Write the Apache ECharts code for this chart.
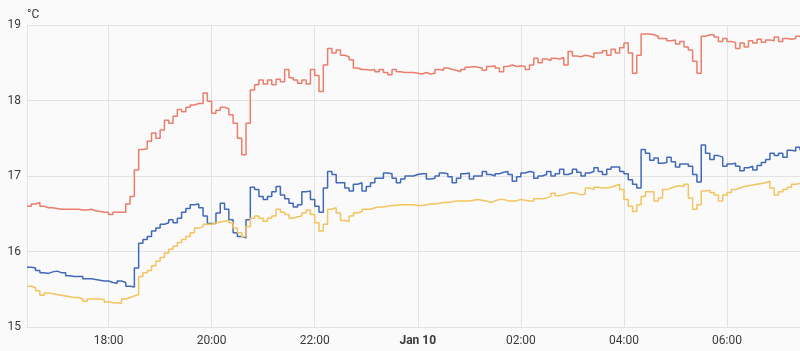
<!DOCTYPE html>
<html lang="en">
<head>
<meta charset="UTF-8" />
<title>Temperatures</title>
<script src="https://cdn.jsdelivr.net/npm/echarts@6/dist/echarts.min.js"></script>
<style>
  html, body { margin: 0; padding: 0; background: #fafafa; }
  #main { width: 800px; height: 351px; }
</style>
</head>
<body>
<div id="main"></div>
<script>
// readings every 5 minutes, 16:25 -> 07:25
var startMinute = 16 * 60 + 25;
var stepMinutes = 5;

var red = [16.60,16.63,16.65,16.60,16.58,16.58,16.57,16.56,16.56,16.56,
  16.56,16.56,16.55,16.55,16.56,16.54,16.53,16.52,16.52,16.49,
  16.52,16.52,16.52,16.63,16.73,17.08,17.35,17.36,17.46,17.57,
  17.50,17.61,17.74,17.70,17.79,17.88,17.85,17.91,17.94,17.96,
  17.96,18.10,17.99,17.83,17.87,17.91,17.89,17.81,17.70,17.50,
  17.28,17.70,18.14,18.21,18.27,18.22,18.27,18.21,18.28,18.25,
  18.41,18.30,18.27,18.23,18.27,18.22,18.41,18.33,18.12,18.47,
  18.69,18.63,18.67,18.60,18.58,18.54,18.43,18.41,18.41,18.40,
  18.41,18.38,18.41,18.37,18.34,18.41,18.38,18.37,18.37,18.37,
  18.36,18.35,18.37,18.35,18.36,18.41,18.40,18.43,18.41,18.40,
  18.38,18.41,18.44,18.45,18.44,18.43,18.40,18.45,18.46,18.43,
  18.38,18.45,18.47,18.45,18.46,18.45,18.41,18.47,18.56,18.50,
  18.55,18.53,18.56,18.55,18.57,18.47,18.65,18.59,18.58,18.60,
  18.59,18.57,18.63,18.63,18.66,18.60,18.68,18.63,18.70,18.76,
  18.63,18.36,18.60,18.88,18.88,18.87,18.85,18.82,18.82,18.79,
  18.80,18.75,18.78,18.71,18.67,18.52,18.36,18.85,18.87,18.87,
  18.84,18.78,18.82,18.78,18.77,18.69,18.76,18.71,18.79,18.76,
  18.81,18.77,18.80,18.79,18.84,18.78,18.82,18.81,18.82,18.85,
  18.85];

var blue = [15.79,15.78,15.75,15.72,15.71,15.73,15.74,15.72,15.72,15.68,
  15.67,15.67,15.67,15.64,15.64,15.63,15.62,15.61,15.61,15.59,
  15.58,15.61,15.59,15.54,15.53,15.78,16.11,16.16,16.20,16.27,
  16.31,16.36,16.38,16.42,16.38,16.44,16.52,16.57,16.62,16.63,
  16.58,16.47,16.37,16.37,16.51,16.64,16.56,16.42,16.25,16.20,
  16.18,16.42,16.85,16.82,16.73,16.69,16.73,16.79,16.86,16.75,
  16.70,16.64,16.59,16.62,16.79,16.80,16.69,16.60,16.52,16.84,
  17.06,17.02,16.91,16.91,16.84,16.80,16.89,16.91,16.80,16.86,
  16.91,16.97,16.97,17.04,17.03,16.97,16.91,16.96,17.00,17.00,
  17.02,17.03,17.03,16.96,16.97,17.00,17.04,17.03,16.99,16.91,
  16.97,17.03,17.04,16.96,17.00,17.00,17.06,17.02,17.00,17.03,
  17.05,17.06,17.02,16.93,16.99,17.04,17.06,17.05,16.97,17.00,
  17.02,17.06,17.00,17.03,17.09,17.02,17.04,17.09,17.05,17.00,
  17.04,17.06,17.11,17.06,17.02,17.09,17.12,17.12,17.06,17.03,
  16.95,16.89,16.84,17.35,17.30,17.21,17.24,17.17,17.18,17.25,
  17.19,17.12,17.16,17.16,17.13,17.02,16.92,17.41,17.30,17.22,
  17.27,17.25,17.13,17.16,17.17,17.13,17.07,17.11,17.13,17.08,
  17.14,17.18,17.22,17.30,17.27,17.30,17.25,17.34,17.33,17.38,
  17.34];

var yellow = [15.54,15.52,15.48,15.42,15.45,15.44,15.43,15.42,15.41,15.40,
  15.39,15.39,15.37,15.34,15.37,15.37,15.37,15.36,15.33,15.32,
  15.32,15.31,15.37,15.39,15.41,15.43,15.67,15.72,15.75,15.81,
  15.87,15.92,15.98,16.03,16.07,16.12,16.16,16.20,16.25,16.31,
  16.33,16.36,16.36,16.38,16.39,16.40,16.41,16.38,16.31,16.25,
  16.20,16.33,16.44,16.47,16.44,16.40,16.44,16.47,16.56,16.52,
  16.49,16.44,16.46,16.47,16.51,16.55,16.49,16.38,16.27,16.36,
  16.56,16.58,16.51,16.41,16.40,16.47,16.51,16.53,16.56,16.56,
  16.58,16.59,16.59,16.60,16.61,16.61,16.62,16.62,16.62,16.62,
  16.61,16.61,16.62,16.63,16.63,16.64,16.65,16.65,16.66,16.67,
  16.67,16.67,16.67,16.68,16.69,16.68,16.67,16.65,16.67,16.69,
  16.69,16.67,16.67,16.67,16.69,16.68,16.67,16.67,16.70,16.70,
  16.71,16.73,16.77,16.74,16.75,16.77,16.78,16.77,16.75,16.76,
  16.84,16.82,16.85,16.84,16.84,16.85,16.87,16.89,16.82,16.69,
  16.60,16.53,16.62,16.73,16.79,16.79,16.67,16.71,16.82,16.84,
  16.86,16.87,16.86,16.89,16.71,16.56,16.62,16.80,16.81,16.78,
  16.75,16.67,16.75,16.78,16.82,16.84,16.86,16.87,16.88,16.89,
  16.90,16.91,16.93,16.84,16.75,16.79,16.82,16.85,16.89,16.90,
  16.89];

var tickLabels = ['18:00', '20:00', '22:00', '00:00', '02:00', '04:00', '06:00'];
var dayLabel = 'Jan 10';

// category axis: HH:mm for each reading
var times = [];
for (var i = 0; i < red.length; i++) {
    var m = (startMinute + i * stepMinutes) % (24 * 60);
    var hh = Math.floor(m / 60), mm = m % 60;
    times.push((hh < 10 ? '0' : '') + hh + ':' + (mm < 10 ? '0' : '') + mm);
}

function isTick(index, value) {
    return tickLabels.indexOf(value) >= 0;
}

var myChart = echarts.init(document.getElementById('main'));

var gridColor = '#e3e3e3';
var textColor = '#3a3a3a';

function stepLine(data, color) {
    return {
        type: 'line',
        step: 'end',
        data: data,
        showSymbol: false,
        symbol: 'none',
        lineStyle: { color: color, width: 1.5 },
        itemStyle: { color: color }
    };
}

var options = {
    backgroundColor: '#fafafa',
    animation: false,
    textStyle: { fontFamily: 'Roboto, sans-serif' },
    grid: { left: 27, right: 0, top: 25, bottom: 24 },
    xAxis: {
        type: 'category',
        boundaryGap: false,
        data: times,
        axisLine: { show: true, lineStyle: { color: gridColor } },
        axisTick: { show: false },
        splitLine: { show: true, interval: isTick, lineStyle: { color: gridColor } },
        axisLabel: {
            interval: isTick,
            color: textColor,
            fontSize: 12,
            margin: 8,
            formatter: function (v) {
                return v === '00:00' ? '{b|' + dayLabel + '}' : v;
            },
            rich: { b: { fontWeight: 'bold', fontSize: 12, color: textColor } }
        }
    },
    yAxis: {
        type: 'value',
        min: 15,
        max: 19,
        interval: 1,
        name: '°C',
        nameGap: 4,
        nameTextStyle: { color: textColor, fontSize: 12, align: 'left' },
        axisLine: { show: true, lineStyle: { color: gridColor } },
        axisTick: { show: false },
        splitLine: { lineStyle: { color: gridColor } },
        axisLabel: { color: textColor, fontSize: 12, margin: 6 }
    },
    series: [
        stepLine(red, '#eb7d6c'),
        stepLine(blue, '#4169b9'),
        stepLine(yellow, '#f2c45e')
    ]
};

myChart.setOption(options);
</script>
</body>
</html>
